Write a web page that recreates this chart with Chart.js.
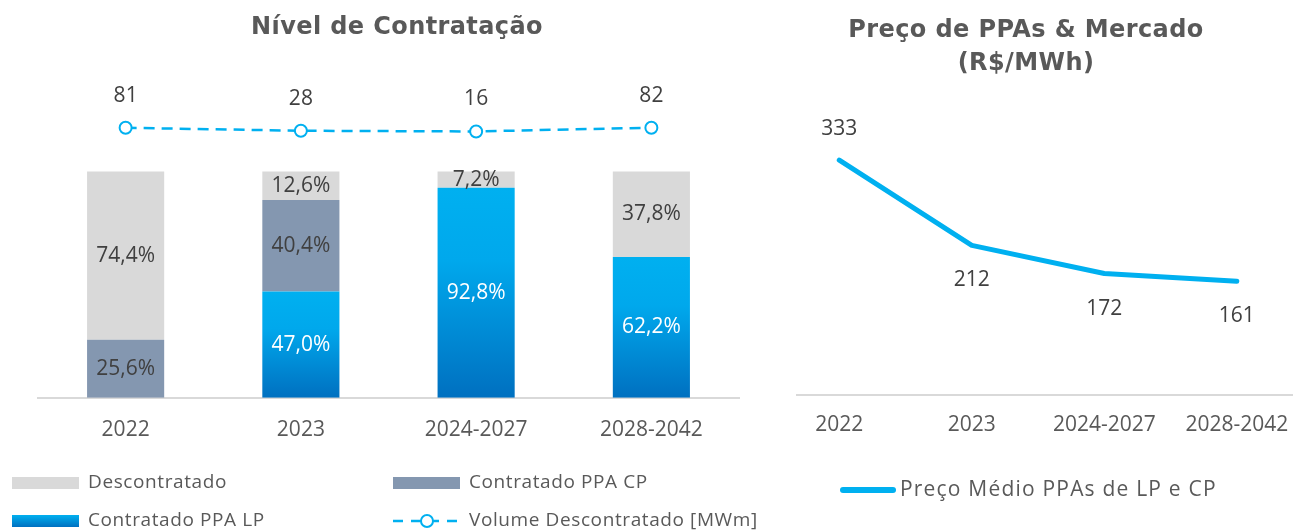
<!DOCTYPE html>
<html>
<head>
<meta charset="utf-8">
<script src="https://cdn.jsdelivr.net/npm/chart.js@4.4.0/dist/chart.umd.min.js"></script>
<style>
  body { margin: 0; background: #fff; width: 1293px; height: 531px; overflow: hidden; position: relative; }
  #c1 { position: absolute; left: 0; top: 0; }
  #c2 { position: absolute; left: 780px; top: 0; }
</style>
</head>
<body>
<canvas id="c1" width="780" height="531"></canvas>
<canvas id="c2" width="560" height="531"></canvas>
<script>
'use strict'
// dados
const periodos = ['2022', '2023', '2024-2027', '2028-2042'];
const descontratado = [74.4, 12.6, 7.2, 37.8];
const contratadoCP = [25.6, 40.4, 0, 0];
const contratadoLP = [0, 47.0, 92.8, 62.2];
const volumeDescontratado = [81, 28, 16, 82];
const precoMedio = [333, 212, 172, 161];

const fonte = 'Open Sans, Noto Sans, sans-serif';
const cinza = '#595959';
const escuro = '#404040';
const azul = '#00B0F0';

function pct(v) {
    return v.toFixed(1).replace('.', ',') + '%';
}

function gradienteLP(ctx) {
    let chart = ctx.chart;
    if (!chart.chartArea || ctx.type !== 'data') return azul;
    let y = chart.scales.y;
    let top = y.getPixelForValue(ctx.raw);
    let bottom = y.getPixelForValue(0);
    if (!(bottom - top > 0)) return azul;
    let g = chart.ctx.createLinearGradient(0, top, 0, bottom);
    g.addColorStop(0, '#00B0F0');
    g.addColorStop(0.35, '#00A8EC');
    g.addColorStop(1, '#0070C0');
    return g;
}

function titulo(ctx, txt, x, y) {
    ctx.fillStyle = cinza;
    ctx.font = 'bold 24px DejaVu Sans, sans-serif';
    ctx.letterSpacing = '0.4px';
    ctx.fillText(txt, x, y);
    ctx.letterSpacing = '0px';
}

// rotulos + titulo + legenda do grafico da esquerda
let extrasEsq = {
    id: 'extrasEsq',
    afterDatasetsDraw(chart) {
        let ctx = chart.ctx;
        ctx.save();
        ctx.textAlign = 'center';
        ctx.textBaseline = 'middle';
        ctx.font = '21px ' + fonte;
        chart.data.datasets.forEach((ds, di) => {
            let meta = chart.getDatasetMeta(di);
            meta.data.forEach((el, i) => {
                let v = ds.data[i];
                if (ds.type === 'line') {
                    ctx.fillStyle = escuro;
                    ctx.fillText(String(v), el.x, el.y - 32);
                } else if (v > 0) {
                    ctx.fillStyle = ds.labelColor;
                    ctx.fillText(pct(v), el.x, (el.y + el.base) / 2);
                }
            });
        });

        titulo(ctx, 'Nível de Contratação', 397, 28);

        // legenda
        let itens = [
            { ds: 2, x: 12, y: 483 },
            { ds: 1, x: 393, y: 483 },
            { ds: 0, x: 12, y: 521 },
            { ds: 3, x: 393, y: 521 }
        ];
        ctx.font = '19px ' + fonte;
        ctx.textAlign = 'left';
        itens.forEach(it => {
            let ds = chart.data.datasets[it.ds];
            if (ds.type === 'line') {
                ctx.strokeStyle = azul;
                ctx.lineWidth = 2.5;
                ctx.setLineDash([10, 8]);
                ctx.beginPath();
                ctx.moveTo(it.x, it.y);
                ctx.lineTo(it.x + 67, it.y);
                ctx.stroke();
                ctx.setLineDash([]);
                ctx.beginPath();
                ctx.arc(it.x + 34, it.y, 6, 0, Math.PI * 2);
                ctx.fillStyle = '#fff';
                ctx.fill();
                ctx.lineWidth = 2;
                ctx.stroke();
            } else {
                if (it.ds === 0) {
                    let g = ctx.createLinearGradient(0, it.y - 6, 0, it.y + 6);
                    g.addColorStop(0, '#00B0F0');
                    g.addColorStop(1, '#0070C0');
                    ctx.fillStyle = g;
                } else {
                    ctx.fillStyle = ds.backgroundColor;
                }
                ctx.fillRect(it.x, it.y - 6, 67, 12);
            }
            ctx.fillStyle = cinza;
            ctx.letterSpacing = '0.6px';
            ctx.fillText(ds.label, it.x + 76, it.y);
            ctx.letterSpacing = '0px';
        });
        ctx.restore();
    }
};

new Chart(document.getElementById('c1'), {
    type: 'bar',
    data: {
        labels: periodos,
        datasets: [
            {
                label: 'Contratado PPA LP',
                data: contratadoLP,
                backgroundColor: gradienteLP,
                labelColor: '#FFFFFF',
                stack: 's',
                order: 2,
                barPercentage: 0.44,
                categoryPercentage: 1
            },
            {
                label: 'Contratado PPA CP',
                data: contratadoCP,
                backgroundColor: '#8497B0',
                labelColor: escuro,
                stack: 's',
                order: 2,
                barPercentage: 0.44,
                categoryPercentage: 1
            },
            {
                label: 'Descontratado',
                data: descontratado,
                backgroundColor: '#D9D9D9',
                labelColor: escuro,
                stack: 's',
                order: 2,
                barPercentage: 0.44,
                categoryPercentage: 1
            },
            {
                type: 'line',
                label: 'Volume Descontratado [MWm]',
                data: volumeDescontratado,
                yAxisID: 'y2',
                borderColor: azul,
                borderWidth: 2.5,
                borderDash: [11, 7],
                pointRadius: 6,
                pointBorderWidth: 2,
                pointBackgroundColor: '#fff',
                pointBorderColor: azul,
                order: 1,
                clip: false
            }
        ]
    },
    options: {
        responsive: false,
        animation: false,
        layout: { padding: { left: 38, right: 41, top: 103.5, bottom: 68 } },
        scales: {
            x: {
                stacked: true,
                grid: { display: false, drawTicks: false },
                border: { display: true, color: '#D9D9D9', width: 2 },
                ticks: { padding: 20, color: cinza, font: { family: fonte, size: 21 } }
            },
            y: { stacked: true, display: false, min: 0, max: 130 },
            y2: { display: false, min: -4682, max: 509 }
        },
        plugins: { legend: { display: false }, tooltip: { enabled: false } }
    },
    plugins: [extrasEsq]
});

// grafico da direita
let posRotulo = ['top', 'bottom', 'bottom', 'bottom'];

let extrasDir = {
    id: 'extrasDir',
    afterDatasetsDraw(chart) {
        let ctx = chart.ctx;
        ctx.save();
        ctx.textAlign = 'center';
        ctx.textBaseline = 'middle';
        ctx.font = '21px ' + fonte;
        ctx.fillStyle = escuro;
        let meta = chart.getDatasetMeta(0);
        meta.data.forEach((el, i) => {
            let dy = posRotulo[i] === 'top' ? -31 : 35;
            ctx.fillText(String(precoMedio[i]), el.x, el.y + dy);
        });

        titulo(ctx, 'Preço de PPAs & Mercado', 246, 31);
        titulo(ctx, '(R$/MWh)', 246, 64);

        // legenda
        ctx.strokeStyle = azul;
        ctx.lineWidth = 6;
        ctx.lineCap = 'round';
        ctx.beginPath();
        ctx.moveTo(63, 490);
        ctx.lineTo(113, 490);
        ctx.stroke();
        ctx.textAlign = 'left';
        ctx.fillStyle = cinza;
        ctx.font = '21px ' + fonte;
        ctx.letterSpacing = '1.2px';
        ctx.fillText(chart.data.datasets[0].label, 120, 490);
        ctx.letterSpacing = '0px';
        ctx.restore();
    }
};

new Chart(document.getElementById('c2'), {
    type: 'line',
    data: {
        datasets: [{
            label: 'Preço Médio PPAs de LP e CP',
            data: precoMedio.map((v, i) => ({ x: i, y: v })),
            borderColor: azul,
            borderWidth: 5,
            borderJoinStyle: 'round',
            borderCapStyle: 'round',
            pointRadius: 0,
            clip: false
        }]
    },
    options: {
        responsive: false,
        animation: false,
        layout: { padding: { left: 17, right: 47, top: 141, bottom: 75 } },
        scales: {
            x: {
                type: 'linear',
                min: -0.319,
                max: 3.424,
                afterBuildTicks: s => { s.ticks = periodos.map((p, i) => ({ value: i })); },
                grid: { display: false, drawTicks: false },
                border: { display: true, color: '#D9D9D9', width: 2 },
                ticks: {
                    padding: 18,
                    autoSkip: false,
                    maxRotation: 0,
                    color: cinza,
                    font: { family: fonte, size: 21 },
                    callback: v => periodos[v]
                }
            },
            y: { display: false, min: 0, max: 360 }
        },
        plugins: { legend: { display: false }, tooltip: { enabled: false } }
    },
    plugins: [extrasDir]
});
</script>
</body>
</html>
